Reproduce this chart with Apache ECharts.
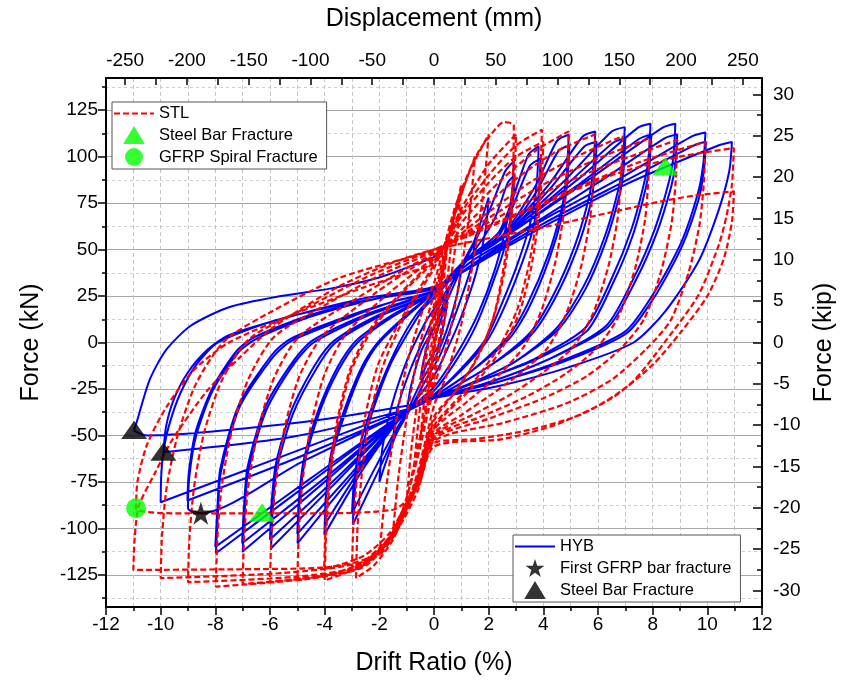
<!DOCTYPE html>
<html>
<head>
<meta charset="utf-8">
<script src="https://cdn.jsdelivr.net/npm/echarts@6/dist/echarts.min.js"></script>
<style>
html,body{margin:0;padding:0;background:#fff;}
#chart{width:842px;height:694px;}
</style>
</head>
<body>
<div id="chart"></div>
<script>
// ---------- tick values ----------
const driftRange = [-12, 12];
const kNTicks = [-125, -100, -75, -50, -25, 0, 25, 50, 75, 100, 125];
const kNMinorTicks = [-137.5, -112.5, -87.5, -62.5, -37.5, -12.5, 12.5, 37.5, 62.5, 87.5, 112.5, 137.5];
const kipTicks = [-30, -25, -20, -15, -10, -5, 0, 5, 10, 15, 20, 25, 30];
const kipMinorTicks = [-27.5, -22.5, -17.5, -12.5, -7.5, -2.5, 2.5, 7.5, 12.5, 17.5, 22.5, 27.5];
const mmLabels = [-250, -200, -150, -100, -50, 0, 50, 100, 150, 200, 250];
const mmTickMarks = [-250, -225, -200, -175, -150, -125, -100, -75, -50, -25, 0, 25, 50, 75, 100, 125, 150, 175, 200, 225, 250];
const kipMax = 32;
const kNMax = 142.34;
const mmMax = 265.5;

// ---------- HYB cycles [drift %, force kN] ----------
const hybCycle01 = [[0,0],[0.2,10],[0.5,22],[0.38,12],[0.15,-2],[-0.2,-10],[-0.5,-20],[-0.38,-10],[-0.15,3]];
const hybCycle02 = [[-0.15,3],[0.4,20],[1.0,40],[0.85,26],[0.45,6],[0.05,-8],[-0.5,-22],[-1.0,-38],[-0.85,-24],[-0.45,-4],[0,8]];
const hybCycle03 = [[0,8],[0.6,30],[1.5,55],[1.35,40],[0.85,18],[0.25,-6],[-0.3,-20],[-0.8,-34],[-1.5,-52],[-1.35,-36],[-0.85,-14],[-0.25,6],[0,14]];
const hybCycle04 = [[0,14],[0.8,36],[1.4,52],[2.0,78],[1.88,60],[1.55,38],[1.0,14],[0.35,-8],[0,-18],[-0.8,-34],[-1.4,-50],[-2.0,-75],[-1.88,-56],[-1.55,-34],[-1.0,-10],[-0.35,10],[0,18]];
const hybCycle05 = [[0,18],[1.0,40],[2.0,70],[2.6,92],[2.92,97.5],[2.85,80],[2.6,60],[2.2,38],[1.6,15],[1.0,-2],[0.4,-16],[0,-24],[-1.0,-38],[-2.0,-68],[-2.97,-98],[-2.9,-80],[-2.65,-58],[-2.2,-35],[-1.6,-12],[-1.0,4],[-0.4,18],[0,24]];
const hybCycle06 = [[0,24],[1.2,44],[2.2,66],[2.7,86],[2.95,90],[2.88,74],[2.6,52],[2.1,30],[1.5,8],[0.8,-10],[0,-26],[-1.0,-38],[-2.1,-66],[-3.0,-92],[-2.92,-74],[-2.65,-52],[-2.1,-28],[-1.4,-4],[-0.7,14],[0,26]];
const hybCycle07 = [[0,26],[1.2,45],[2.4,60],[3.45,101],[3.83,105.5],[3.76,86],[3.55,66],[3.05,42],[2.4,18],[1.9,2],[1.0,-14],[0,-28],[-1.0,-37],[-2.5,-66],[-4.01,-103.5],[-3.95,-84],[-3.75,-62],[-3.2,-36],[-2.6,-14],[-2.0,0],[-1.0,14],[0,27]];
const hybCycle08 = [[0,27],[1.2,45],[2.4,58],[3.5,95],[3.9,99],[3.83,80],[3.6,60],[3.1,38],[2.45,15],[1.9,0],[1.0,-15],[0,-28],[-1.0,-37],[-2.5,-64],[-4.0,-98],[-3.94,-80],[-3.74,-58],[-3.2,-33],[-2.6,-12],[-2.0,1],[-1.0,15],[0,27]];
const hybCycle09 = [[0,27],[1.2,45],[2.4,56],[3.7,84],[4.5,108.5],[4.93,111.8],[4.86,92],[4.7,74],[4.2,48],[3.4,20],[2.7,3],[1.4,-15],[0,-29],[-1.0,-37],[-3.0,-72],[-4.99,-108],[-4.93,-88],[-4.75,-66],[-4.2,-38],[-3.5,-15],[-2.8,0],[-1.5,14],[0,27]];
const hybCycle10 = [[0,27],[1.2,44],[2.4,55],[3.7,80],[4.55,103],[4.95,106],[4.88,87],[4.72,70],[4.22,45],[3.45,18],[2.75,2],[1.4,-15],[0,-29],[-1.0,-37],[-3.0,-70],[-5.0,-103],[-4.94,-84],[-4.76,-63],[-4.22,-36],[-3.52,-13],[-2.85,1],[-1.5,15],[0,27]];
const hybCycle11 = [[0,27],[1.2,45],[2.4,56],[4.2,85],[5.45,111],[5.9,113.6],[5.83,94],[5.67,78],[5.15,52],[4.35,25],[3.5,5],[2.0,-13],[0,-30],[-1.0,-37],[-3.5,-74],[-5.96,-110.7],[-5.9,-90],[-5.75,-68],[-5.15,-38],[-4.3,-14],[-3.6,0],[-2.0,14],[0,27]];
const hybCycle12 = [[0,27],[1.2,44],[2.4,55],[4.2,82],[5.5,105.5],[5.95,108],[5.88,90],[5.72,74],[5.2,49],[4.4,23],[3.55,4],[2.0,-13],[0,-30],[-1.0,-37],[-3.5,-72],[-6.0,-106],[-5.94,-86],[-5.78,-65],[-5.2,-36],[-4.35,-12],[-3.65,1],[-2.0,15],[0,27]];
const hybCycle13 = [[0,27],[1.2,45],[2.4,56],[4.7,86],[6.5,113.5],[6.98,115.9],[6.9,97],[6.77,84],[6.27,58],[5.5,31],[4.5,8],[3.0,-10],[1.5,-21],[0,-30],[-1.0,-37],[-4.0,-75],[-7.0,-112.5],[-6.93,-92],[-6.8,-70],[-6.15,-37],[-5.1,-11],[-4.4,0],[-2.5,14],[0,28]];
const hybCycle14 = [[0,28],[1.2,45],[2.4,55],[4.7,83],[6.55,107.5],[7.0,110],[6.93,92],[6.8,80],[6.3,55],[5.55,29],[4.55,7],[3.0,-10],[1.5,-21],[0,-30],[-1.0,-37],[-4.0,-73],[-7.02,-108],[-6.95,-88],[-6.82,-67],[-6.18,-35],[-5.15,-10],[-4.45,1],[-2.5,15],[0,28]];
const hybCycle15 = [[0,28],[1.2,45],[2.4,56],[5.2,87],[7.45,115.5],[7.92,117.7],[7.85,100],[7.73,88.5],[7.24,61.6],[6.51,34.7],[5.53,7.8],[3.6,-9.4],[1.8,-20],[0,-30],[-1.0,-37],[-4.5,-75],[-7.98,-113.4],[-7.9,-90],[-7.8,-70],[-7.12,-35],[-5.9,-8],[-5.2,1],[-3.0,14],[-1.5,22],[0,28]];
const hybCycle16 = [[0,28],[1.2,44],[2.4,55],[5.2,84],[7.5,109.5],[7.95,112],[7.88,95],[7.76,84],[7.28,58],[6.55,32],[5.58,6],[3.6,-10],[1.8,-20],[0,-30],[-1.0,-37],[-4.5,-73],[-8.0,-110],[-7.92,-88],[-7.82,-68],[-7.15,-34],[-5.95,-7],[-5.25,2],[-3.0,15],[-1.5,22],[0,28]];
const hybCycle17 = [[0,28],[1.2,44],[2.4,55],[5.6,87],[8.35,115.5],[8.83,117.7],[8.76,100],[8.62,88],[8.1,62],[7.35,36],[6.3,9],[4.2,-9],[2.1,-21],[0,-30],[-1.0,-37],[-4.8,-64],[-8.53,-91.9],[-9.0,-89.2],[-8.95,-72],[-8.7,-50],[-8.1,-26],[-7.2,-6],[-6.5,2],[-4.5,14],[-2.0,24],[0,29]];
const hybCycle18 = [[0,29],[1.5,45],[3.0,58],[6.0,86],[8.45,110],[8.9,112],[8.82,95],[8.68,84],[8.15,59],[7.4,34],[6.35,8],[4.2,-9],[2.1,-21],[0,-30],[-1.0,-37],[-5.0,-62],[-9.02,-85],[-8.97,-70],[-8.72,-48],[-8.12,-25],[-7.25,-5],[-6.55,3],[-4.5,15],[-2.0,24],[0,29]];
const hybCycle19 = [[0,29],[2.0,48],[4.0,66],[7.0,90],[9.45,111],[9.93,113],[9.85,96],[9.65,80],[9.05,54],[8.1,28],[7.0,6],[4.8,-9],[2.4,-21],[0,-30],[-1.0,-36],[-5.5,-61],[-10.0,-86],[-9.98,-72],[-9.9,-59],[-9.7,-45],[-9.3,-28],[-8.7,-12],[-7.9,0],[-6.0,11],[-3.5,20],[0,30]];
const hybCycle20 = [[0,30],[2.0,47],[4.0,64],[7.0,87],[9.5,106],[9.95,108],[9.87,92],[9.68,77],[9.08,52],[8.13,26],[7.05,5],[4.8,-10],[2.4,-21],[0,-30],[-1.0,-36],[-5.17,-50.7],[-9.9,-59],[-9.8,-45],[-9.5,-30],[-9.0,-16],[-8.3,-4],[-7.5,4],[-5.0,15],[-2.5,24],[0,30]];
const hybCycle21 = [[0,30],[2.0,46],[3.95,62],[7.0,85],[10.4,106],[10.9,107.9],[10.8,92],[10.4,70.6],[9.68,43.7],[8.46,16.8],[7.3,0],[5.0,-13],[2.5,-23],[0,-30],[-1.0,-34],[-5.17,-43.5],[-10.5,-50],[-10.97,-47],[-10.9,-44],[-10.4,-20],[-9.8,-4],[-8.9,9],[-7.5,19],[-5.6,25],[-3.8,29],[-2.0,35],[-0.5,43],[0.3,48]];

// ---------- STL cycles [drift %, force kN] ----------
const stlCycle01 = [[0,0],[0.12,15],[0.25,30],[0.15,14],[0,-2],[-0.12,-16],[-0.25,-30],[-0.15,-14],[0,2]];
const stlCycle02 = [[0,2],[0.25,28],[0.5,55],[0.35,32],[0.1,4],[-0.1,-14],[-0.25,-30],[-0.5,-52],[-0.35,-30],[-0.1,-2],[0.05,14]];
const stlCycle03 = [[0.05,14],[0.4,44],[0.75,72],[0.58,46],[0.3,12],[0,-14],[-0.35,-42],[-0.75,-70],[-0.58,-44],[-0.3,-10],[0,16]];
const stlCycle04 = [[0,16],[0.5,52],[1.0,85],[0.82,56],[0.45,18],[0.05,-16],[-0.5,-50],[-1.0,-85],[-0.82,-56],[-0.45,-16],[0,20]];
const stlCycle05 = [[0,20],[0.6,60],[1.1,84],[1.5,100],[1.3,70],[0.95,35],[0.5,0],[0,-24],[-0.6,-62],[-1.1,-88],[-1.5,-102],[-1.3,-72],[-0.95,-36],[-0.5,0],[0,26]];
const stlCycle06 = [[0,26],[0.7,66],[1.3,92],[2.0,112],[1.8,80],[1.45,45],[1.0,10],[0.4,-20],[0,-34],[-0.6,-70],[-1.3,-100],[-2.0,-115],[-1.8,-84],[-1.45,-48],[-1.0,-12],[-0.4,18],[0,32]];
const stlCycle07 = [[0,32],[0.8,74],[1.6,102],[2.2,114],[2.55,118.6],[2.92,117],[2.9,95],[2.8,70],[2.6,45],[2.2,15],[1.6,-8],[0.8,-26],[0,-40],[-0.7,-78],[-1.5,-106],[-2.2,-120],[-2.85,-126.7],[-2.8,-100],[-2.65,-72],[-2.4,-44],[-1.9,-14],[-1.2,10],[-0.5,28],[0,40]];
const stlCycle08 = [[0,40],[1.0,72],[2.0,96],[3.0,112],[2.95,92],[2.82,66],[2.6,40],[2.15,12],[1.5,-10],[0.7,-28],[0,-42],[-0.7,-76],[-1.6,-104],[-2.4,-117],[-3.0,-122],[-2.95,-98],[-2.8,-70],[-2.55,-42],[-2.05,-12],[-1.3,10],[-0.5,30],[0,42]];
const stlCycle09 = [[0,42],[1.0,70],[2.0,90],[3.0,106],[3.95,114.5],[3.9,95],[3.78,70],[3.5,44],[3.05,18],[2.4,-2],[1.4,-22],[0,-45],[-0.7,-78],[-1.6,-106],[-2.6,-120],[-4.0,-128],[-3.95,-104],[-3.82,-76],[-3.55,-46],[-3.05,-16],[-2.3,6],[-1.2,26],[0,44]];
const stlCycle10 = [[0,44],[1.0,68],[2.0,86],[3.0,100],[4.0,108],[3.95,90],[3.82,66],[3.55,40],[3.1,15],[2.45,-4],[1.4,-24],[0,-46],[-0.7,-76],[-1.6,-102],[-2.6,-115],[-4.02,-122],[-3.97,-100],[-3.84,-72],[-3.57,-44],[-3.08,-15],[-2.35,7],[-1.2,27],[0,45]];
const stlCycle11 = [[0,45],[1.2,68],[2.5,88],[3.8,104],[4.93,113.6],[4.88,94],[4.75,70],[4.45,44],[3.95,18],[3.3,-2],[2.4,-17],[1.2,-32],[0,-47],[-0.7,-78],[-1.6,-104],[-2.6,-118],[-3.6,-124],[-5.0,-128],[-4.95,-104],[-4.82,-76],[-4.52,-46],[-4.0,-17],[-3.2,5],[-1.7,26],[0,46]];
const stlCycle12 = [[0,46],[1.5,68],[3.0,88],[4.5,103],[5.9,112],[5.85,92],[5.72,68],[5.4,42],[4.85,16],[4.15,-3],[3.2,-16],[2.1,-28],[1.0,-39],[0,-49],[-0.7,-79],[-1.6,-105],[-2.6,-119],[-4.0,-125],[-6.0,-129],[-5.95,-105],[-5.8,-77],[-5.48,-47],[-4.92,-18],[-4.05,4],[-2.2,26],[-0.8,40],[0,47]];
const stlCycle13 = [[0,47],[1.8,68],[3.5,86],[5.2,100],[6.9,111],[6.85,91],[6.72,67],[6.38,41],[5.8,15],[5.05,-3],[4.0,-16],[2.8,-28],[1.4,-39],[0,-50],[-0.7,-80],[-1.6,-106],[-2.6,-120],[-4.2,-126],[-7.0,-130],[-6.95,-106],[-6.8,-78],[-6.45,-48],[-5.85,-19],[-4.95,3],[-2.8,24],[-1.0,40],[0,48]];
const stlCycle14 = [[0,48],[2.0,67],[4.0,85],[6.0,99],[7.9,110],[7.85,90],[7.72,66],[7.36,40],[6.75,14],[5.95,-3],[4.8,-17],[3.4,-29],[1.7,-40],[0,-51],[-0.7,-80],[-1.6,-106],[-2.6,-121],[-4.5,-127],[-7.98,-131.4],[-7.93,-107],[-7.78,-79],[-7.42,-49],[-6.8,-20],[-5.85,3],[-4.0,20],[-2.0,36],[0,49]];
const stlCycle15 = [[0,49],[2.3,67],[4.5,84],[6.8,98],[8.9,109],[8.85,89],[8.7,65],[8.32,39],[7.7,13],[6.85,-3],[5.6,-18],[4.0,-30],[2.0,-41],[0,-52],[-0.7,-80],[-1.6,-106],[-2.6,-120],[-5.0,-126],[-9.0,-129],[-8.95,-106],[-8.78,-78],[-8.4,-48],[-7.75,-20],[-6.75,2],[-4.5,20],[-2.2,37],[0,50]];
const stlCycle16 = [[0,50],[2.5,66],[5.0,82],[7.5,97],[9.93,108],[9.88,88],[9.72,64],[9.32,38],[8.66,12],[7.8,-3],[6.5,-20],[4.8,-33],[2.6,-43],[0,-53],[-0.7,-80],[-1.6,-105],[-2.6,-118],[-5.5,-124],[-10.0,-126.8],[-9.95,-104],[-9.78,-78],[-9.38,-50],[-8.7,-22],[-7.65,1],[-5.9,17],[-3.47,34.7],[0,50]];
const stlCycle17 = [[0,50],[3.6,72],[6.5,90],[9.0,100],[10.97,104.6],[10.9,85],[10.7,68],[10.42,52.6],[9.68,25.7],[8.46,0.6],[7.2,-22],[5.5,-38],[3.5,-47],[1.5,-52],[0,-54],[-0.6,-80],[-1.4,-102],[-2.4,-116],[-4.0,-121],[-7.0,-122],[-11.0,-122.4],[-10.95,-105],[-10.8,-88],[-10.2,-70],[-9.56,-52],[-8.3,-26],[-7.1,-8],[-5.9,8],[-3.5,30],[-1.5,43],[0,50]];
const stlCycle18 = [[0,50],[4.0,62],[8.0,75],[9.5,79],[10.97,81.3],[10.9,65],[10.6,45],[10.0,25],[9.0,5],[8.0,-12],[6.5,-30],[4.5,-44],[2.5,-52],[0,-56],[-0.6,-78],[-1.5,-90],[-5.0,-92],[-9.0,-92],[-10.9,-89.2],[-10.85,-75],[-10.5,-55],[-9.8,-35],[-8.8,-15],[-7.5,0],[-5.0,16],[-2.5,30],[0,42]];

// ---------- event markers ----------
const stlSteelFracture = [[8.46,94.8],[-6.29,-91.5]];
const stlSpiralFracture = [[-10.9,-89.2]];
const hybFirstGfrpFracture = [[-8.53,-91.9]];
const hybSteelFracture = [[-10.97,-47],[-9.9,-58.7]];

const hybPath = [].concat(hybCycle01,hybCycle02,hybCycle03,hybCycle04,hybCycle05,hybCycle06,hybCycle07,
  hybCycle08,hybCycle09,hybCycle10,hybCycle11,hybCycle12,hybCycle13,hybCycle14,hybCycle15,hybCycle16,
  hybCycle17,hybCycle18,hybCycle19,hybCycle20,hybCycle21);
const stlPath = [].concat(stlCycle01,stlCycle02,stlCycle03,stlCycle04,stlCycle05,stlCycle06,stlCycle07,
  stlCycle08,stlCycle09,stlCycle10,stlCycle11,stlCycle12,stlCycle13,stlCycle14,stlCycle15,stlCycle16,
  stlCycle17,stlCycle18);

const FONT = '"Liberation Sans", Arial, sans-serif';
const starPath = 'path://M50,0 L61.2,34.5 L97.6,34.5 L68.2,55.9 L79.4,90.5 L50,69.1 L20.6,90.5 L31.8,55.9 L2.4,34.5 L38.8,34.5 Z';
const triPath = 'path://M12,0 L24,20 L0,20 Z';

const chart = echarts.init(document.getElementById('chart'), null, {renderer: 'canvas'});
const legendCommon = {
  orient: 'vertical', itemWidth: 40, itemHeight: 18, itemGap: 4,
  padding: [3, 9, 3, 1], borderColor: '#555', borderWidth: 1, borderRadius: 0, backgroundColor: '#fff',
  textStyle: {fontSize: 16.5, color: '#000', fontFamily: FONT},
  formatter: n => n.trim()
};
const option = {
  animation: false,
  backgroundColor: '#fff',
  textStyle: {fontFamily: FONT, color: '#000'},
  grid: {left: 106, right: 80, top: 78, bottom: 87, containLabel: false, outerBoundsMode: 'none'},
  xAxis: [
    {
      type: 'value', position: 'bottom', min: driftRange[0], max: driftRange[1], interval: 2,
      name: 'Drift Ratio (%)', nameLocation: 'middle', nameGap: 44,
      nameTextStyle: {fontSize: 25, fontFamily: FONT, color: '#000'},
      axisLine: {show: true, onZero: false, lineStyle: {color: '#000', width: 2}},
      axisTick: {show: true, inside: false, length: 8, lineStyle: {color: '#000', width: 1.5}},
      minorTick: {show: true, splitNumber: 2, length: 4, lineStyle: {color: '#000', width: 1.5}},
      axisLabel: {fontSize: 19, color: '#000', margin: 8, fontFamily: FONT},
      splitLine: {show: true, lineStyle: {color: '#c4c4c4', type: [4, 3], width: 1}},
      minorSplitLine: {show: true, lineStyle: {color: '#c4c4c4', type: [4, 3], width: 1}}
    },
    {
      type: 'value', position: 'top', min: -mmMax, max: mmMax,
      name: 'Displacement (mm)', nameLocation: 'middle', nameGap: 46,
      nameTextStyle: {fontSize: 25, fontFamily: FONT, color: '#000'},
      axisLine: {show: true, onZero: false, lineStyle: {color: '#000', width: 2}},
      axisTick: {show: true, inside: true, length: 7, customValues: mmTickMarks, lineStyle: {color: '#000', width: 1.5}},
      axisLabel: {fontSize: 19, color: '#000', margin: 8, customValues: mmLabels, fontFamily: FONT},
      splitLine: {show: false}
    }
  ],
  yAxis: [
    {
      type: 'value', position: 'left', min: -kNMax, max: kNMax,
      name: 'Force (kN)', nameLocation: 'middle', nameGap: 62,
      nameTextStyle: {fontSize: 25, fontFamily: FONT, color: '#000'},
      axisLine: {show: true, onZero: false, lineStyle: {color: '#000', width: 2}},
      axisTick: {show: true, inside: false, length: 8, customValues: kNTicks, lineStyle: {color: '#000', width: 1.5}},
      axisLabel: {fontSize: 19, color: '#000', margin: 8, customValues: kNTicks, fontFamily: FONT},
      splitLine: {show: true, lineStyle: {color: '#a8a8a8', type: 'solid', width: 1}}
    },
    {
      type: 'value', position: 'left', min: -kNMax, max: kNMax,
      axisLine: {show: false, onZero: false},
      axisTick: {show: true, inside: false, length: 4, customValues: kNMinorTicks, lineStyle: {color: '#000', width: 1.5}},
      axisLabel: {show: false, customValues: kNMinorTicks},
      splitLine: {show: true, lineStyle: {color: '#cfcfcf', type: [3, 3], width: 1}}
    },
    {
      type: 'value', position: 'right', min: -kipMax, max: kipMax,
      name: 'Force (kip)', nameLocation: 'middle', nameGap: 50, nameRotate: 90,
      nameTextStyle: {fontSize: 25, fontFamily: FONT, color: '#000'},
      axisLine: {show: true, onZero: false, lineStyle: {color: '#000', width: 2}},
      axisTick: {show: true, inside: true, length: 9, customValues: kipTicks, lineStyle: {color: '#000', width: 1.5}},
      axisLabel: {fontSize: 19, color: '#000', margin: 11, customValues: kipTicks, fontFamily: FONT},
      splitLine: {show: false}
    },
    {
      type: 'value', position: 'right', min: -kipMax, max: kipMax,
      axisLine: {show: false, onZero: false},
      axisTick: {show: true, inside: true, length: 5, customValues: kipMinorTicks, lineStyle: {color: '#000', width: 1.5}},
      axisLabel: {show: false, customValues: kipMinorTicks},
      splitLine: {show: false}
    }
  ],
  legend: [
    Object.assign({}, legendCommon, {
      data: [{name: 'STL', itemStyle: {opacity: 0}}, 'Steel Bar Fracture', 'GFRP Spiral Fracture'],
      left: 112, top: 102
    }),
    Object.assign({}, legendCommon, {
      data: [{name: 'HYB', itemStyle: {opacity: 0}}, 'First GFRP bar fracture', 'Steel Bar Fracture '],
      left: 513, top: 535
    })
  ],
  series: [
    {
      name: 'HYB', type: 'line', xAxisIndex: 0, yAxisIndex: 0, data: hybPath,
      showSymbol: false, symbol: 'none', smooth: 0.25, clip: true,
      lineStyle: {color: '#0000ff', width: 2}, itemStyle: {color: '#0000ff'}, z: 2
    },
    {
      name: 'STL', type: 'line', xAxisIndex: 0, yAxisIndex: 0, data: stlPath,
      showSymbol: false, symbol: 'none', smooth: 0.25, clip: true,
      lineStyle: {color: '#ff0000', width: 2.2, type: [6, 3]}, itemStyle: {color: '#ff0000'}, z: 3
    },
    {
      name: 'Steel Bar Fracture', type: 'scatter', xAxisIndex: 0, yAxisIndex: 0, data: stlSteelFracture,
      symbol: triPath, symbolKeepAspect: true, symbolSize: [26, 22], itemStyle: {color: '#00ff00'}, z: 5
    },
    {
      name: 'GFRP Spiral Fracture', type: 'scatter', xAxisIndex: 0, yAxisIndex: 0, data: stlSpiralFracture,
      symbol: 'circle', symbolSize: 20, itemStyle: {color: '#00ff00'}, z: 5
    },
    {
      name: 'First GFRP bar fracture', type: 'scatter', xAxisIndex: 0, yAxisIndex: 0, data: hybFirstGfrpFracture,
      symbol: starPath, symbolKeepAspect: true, symbolSize: 24, itemStyle: {color: '#000'}, z: 5
    },
    {
      name: 'Steel Bar Fracture ', type: 'scatter', xAxisIndex: 0, yAxisIndex: 0, data: hybSteelFracture,
      symbol: triPath, symbolKeepAspect: true, symbolSize: [26, 22], itemStyle: {color: '#000'}, z: 5
    }
  ]
};
chart.setOption(option);
</script>
</body>
</html>
